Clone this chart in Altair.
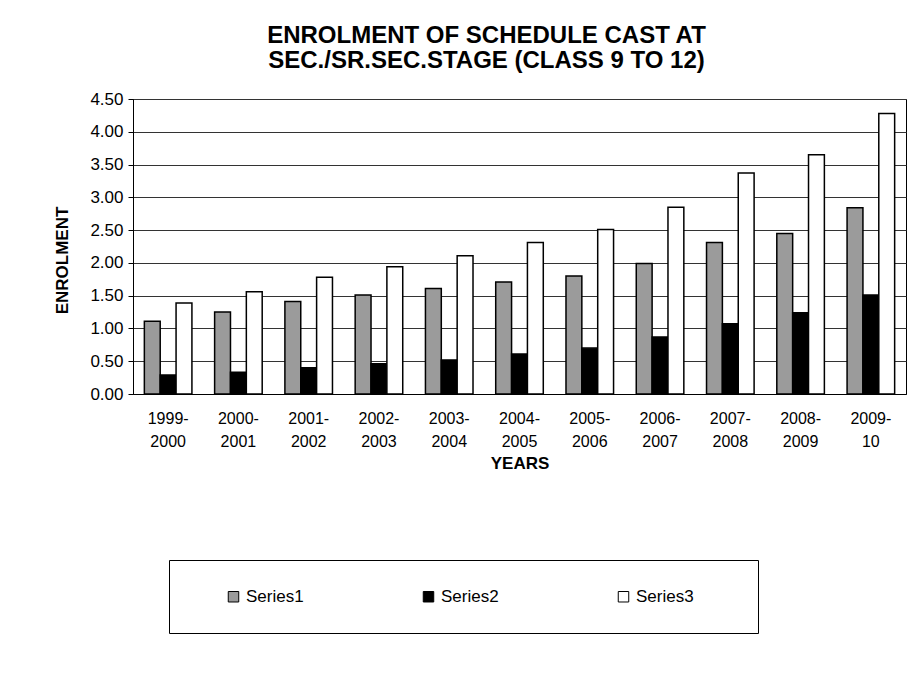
import altair as alt
import pandas as pd

years = ["1999-2000", "2000-2001", "2001-2002", "2002-2003", "2003-2004",
         "2004-2005", "2005-2006", "2006-2007", "2007-2008", "2008-2009", "2009-10"]
series1 = [1.11, 1.25, 1.41, 1.51, 1.61, 1.71, 1.80, 1.99, 2.31, 2.45, 2.84]
series2 = [0.29, 0.33, 0.40, 0.46, 0.52, 0.61, 0.70, 0.87, 1.07, 1.24, 1.51]
series3 = [1.39, 1.56, 1.78, 1.94, 2.11, 2.31, 2.51, 2.85, 3.37, 3.65, 4.28]
series_names = ["Series1", "Series2", "Series3"]
series_colors = ["#9b9b9b", "#000000", "#ffffff"]

rows = []
for name, vals in zip(series_names, [series1, series2, series3]):
    for y, v in zip(years, vals):
        rows.append({"year": y, "series": name, "value": v})
df = pd.DataFrame(rows)

FONT = "Liberation Sans"
PAD = "\u2800" * 3

bars = alt.Chart(df).mark_bar(stroke="#000", strokeWidth=1.5).encode(
    x=alt.X("year:N", sort=years,
            scale=alt.Scale(paddingInner=0.323, paddingOuter=0.1615),
            axis=alt.Axis(title="YEARS", labelAngle=0, tickSize=0,
                          labelExpr="[slice(datum.label,0,5), slice(datum.label,5)]",
                          labelFontSize=16, labelLineHeight=23, labelPadding=16,
                          titleFontSize=17, titleFontWeight="bold", titlePadding=6,
                          labelColor="#000", titleColor="#000",
                          domainColor="#000", grid=False)),
    xOffset=alt.XOffset("series:N", sort=series_names,
                        scale=alt.Scale(paddingInner=0, paddingOuter=0)),
    y=alt.Y("value:Q",
            scale=alt.Scale(domain=[0, 4.5], nice=False),
            axis=alt.Axis(title="ENROLMENT", values=[0, 0.5, 1, 1.5, 2, 2.5, 3, 3.5, 4, 4.5],
                          format=".2f", labelFontSize=17, tickSize=5, labelPadding=5,
                          tickColor="#000", domainColor="#000", labelColor="#000",
                          titleFontSize=17, titleFontWeight="bold", titleColor="#000",
                          titleX=-71, titleY=161, titleAngle=270,
                          titleAlign="center", titleBaseline="middle",
                          gridColor="#333", gridWidth=1)),
    fill=alt.Fill("series:N", sort=series_names,
                  scale=alt.Scale(domain=series_names, range=series_colors),
                  legend=alt.Legend(title=None, orient="none", direction="horizontal",
                                    columns=3, legendX=36, legendY=461,
                                    padding=28, columnPadding=88,
                                    symbolType="square", symbolSize=110,
                                    symbolStrokeColor="#000", symbolStrokeWidth=1,
                                    symbolOffset=28, labelOffset=4,
                                    labelExpr="datum.value == 'Series3' ? datum.label + '" + PAD + "' : datum.label",
                                    labelFontSize=17, labelColor="#000",
                                    strokeColor="#000", fillColor="#fff")),
)

chart = bars.properties(
    width=773, height=295,
    title=alt.TitleParams(
        text=["ENROLMENT OF SCHEDULE CAST AT", "SEC./SR.SEC.STAGE (CLASS 9 TO 12)"],
        fontSize=24, fontWeight="bold", font=FONT, color="#000",
        anchor="middle", frame="group", dx=-33, offset=17, lineHeight=25),
    autosize=alt.AutoSizeParams(type="none"),
    padding={"left": 125, "top": 91, "right": 10, "bottom": 279},
).configure(font=FONT).configure_view(stroke="#000", strokeWidth=1).configure_axis(
    labelFont=FONT, titleFont=FONT).configure_legend(labelFont=FONT)

chart.save("out.html", embed_options={"renderer": "svg", "actions": False})
